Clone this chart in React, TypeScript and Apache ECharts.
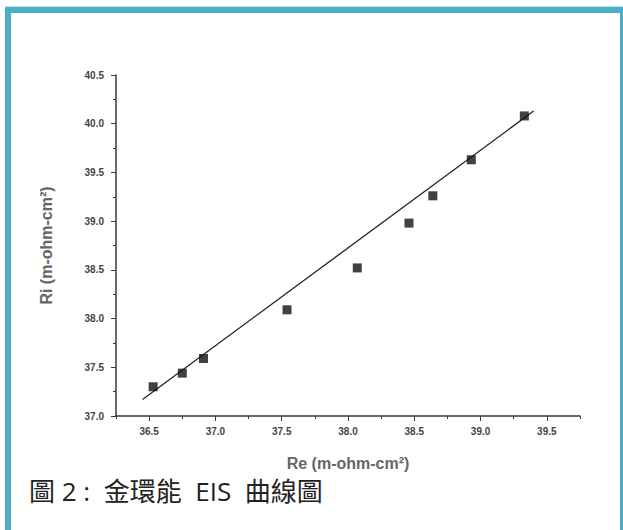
import React, { useEffect, useRef } from "react";
import * as echarts from "echarts";

const reValues = [36.53, 36.75, 36.91, 37.54, 38.07, 38.46, 38.64, 38.93, 39.33];
const riValues = [37.30, 37.44, 37.59, 38.09, 38.52, 38.98, 39.26, 39.63, 40.08];
const fitRe = [36.45, 39.40];
const fitRi = [37.17, 40.13];
const xMajorTicks = [36.5, 37.0, 37.5, 38.0, 38.5, 39.0, 39.5];
const xMinorTicks = [36.25, 36.75, 37.25, 37.75, 38.25, 38.75, 39.25, 39.75];
const xAxisName = "Re (m-ohm-cm²)";
const yAxisName = "Ri (m-ohm-cm²)";
const caption = "圖 2 :  金環能  EIS  曲線圖";

export default function App() {
  const ref = useRef<HTMLDivElement>(null);
  useEffect(() => {
    if (!ref.current) return;
    const chart = echarts.init(ref.current, null, { renderer: "svg" });
    const axisColor = "#3a3a3a";
    const labelStyle = {
      color: "#444",
      fontSize: 10,
      fontFamily: "Liberation Sans, Arial, sans-serif",
      fontWeight: "bold" as const,
    };
    const nameStyle = {
      color: "#666",
      fontSize: 16,
      fontWeight: "bold" as const,
      fontFamily: "Liberation Sans, Arial, sans-serif",
    };
    chart.setOption({
      animation: false,
      grid: { left: 116, top: 75, right: 43, bottom: 114 },
      xAxis: [
        {
          type: "value",
          min: 36.25,
          max: 39.75,
          name: xAxisName,
          nameLocation: "middle",
          nameGap: 39,
          nameTextStyle: nameStyle,
          axisLine: { show: true, lineStyle: { color: axisColor, width: 1.5 } },
          axisTick: { show: true, length: 5, customValues: xMajorTicks, lineStyle: { color: axisColor } },
          axisLabel: {
            ...labelStyle,
            margin: 10,
            customValues: xMajorTicks,
            formatter: (v: number) => v.toFixed(1),
          },
          splitLine: { show: false },
        },
        {
          type: "value",
          min: 36.25,
          max: 39.75,
          position: "bottom",
          axisLine: { show: false },
          axisTick: { show: true, length: 3, customValues: xMinorTicks, lineStyle: { color: axisColor } },
          axisLabel: { show: false },
          splitLine: { show: false },
        },
      ],
      yAxis: {
        type: "value",
        min: 37.0,
        max: 40.5,
        interval: 0.5,
        name: yAxisName,
        nameLocation: "middle",
        nameGap: 62,
        nameTextStyle: nameStyle,
        axisLine: { show: true, lineStyle: { color: axisColor, width: 1.5 } },
        axisTick: { show: true, length: 5, lineStyle: { color: axisColor } },
        minorTick: { show: true, splitNumber: 2, length: 3, lineStyle: { color: axisColor } },
        axisLabel: { ...labelStyle, margin: 12, formatter: (v: number) => v.toFixed(1) },
        splitLine: { show: false },
      },
      series: [
        {
          type: "line",
          data: fitRe.map((x, i) => [x, fitRi[i]]),
          symbol: "none",
          lineStyle: { color: "#222", width: 1.3 },
          z: 2,
        },
        {
          type: "scatter",
          data: reValues.map((x, i) => [x, riValues[i]]),
          symbol: "rect",
          symbolSize: 9,
          itemStyle: { color: "#111" },
          z: 3,
        },
      ],
      graphic: [
        {
          type: "text",
          left: 29,
          top: 478,
          style: {
            text: caption,
            fill: "#222",
            fontSize: 26,
            fontFamily: "Open Sans, Noto Sans CJK TC, sans-serif",
          },
        },
      ],
    });
    return () => chart.dispose();
  }, []);

  return (
    <div style={{ position: "absolute", left: 0, top: 0, width: 623, height: 530, background: "#fff", overflow: "hidden" }}>
      <div ref={ref} style={{ position: "absolute", left: 0, top: 0, width: 623, height: 530 }} />
      <div style={{ position: "absolute", left: 5, top: 6, width: 618, height: 1, background: "#c6e6ee" }} />
      <div style={{ position: "absolute", left: 5, top: 7, width: 618, height: 6, background: "#4bafc8" }} />
      <div style={{ position: "absolute", left: 5, top: 7, width: 6, height: 523, background: "#4bafc8" }} />
      <div style={{ position: "absolute", left: 620, top: 7, width: 3, height: 523, background: "#4bafc8" }} />
    </div>
  );
}
